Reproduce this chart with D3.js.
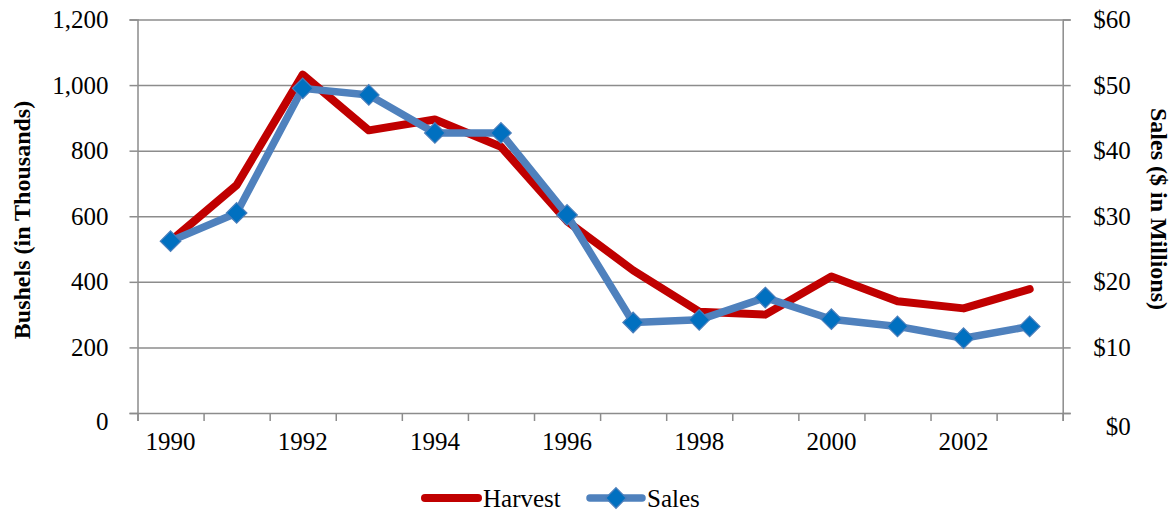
<!DOCTYPE html>
<html lang="en">

<head>
  <meta charset="utf-8">
  <title>Harvest and Sales</title>
  <!-- D3 -->
  <script src="https://cdn.jsdelivr.net/npm/d3@7"></script>
  <style>
    body { margin: 0; background: #fff; }
    svg text { font-family: "Liberation Serif", "Times New Roman", serif; fill: #000; }
    .grid line { stroke: #8c8c8c; stroke-width: 1.5; }
    .grid path { display: none; }
    .axis path, .axis line { stroke: #8c8c8c; stroke-width: 1.5; }
    .axis text { font-size: 25px; }
    .axis-title { font-size: 24px; font-weight: bold; }
  </style>
</head>

<body>
  <svg id="chart" width="1176" height="512"></svg>

  <script>
    // data
    var years = [1990, 1991, 1992, 1993, 1994, 1995, 1996, 1997, 1998, 1999, 2000, 2001, 2002, 2003];
    var harvest = [524, 695, 1032, 862, 895, 812, 585, 435, 309, 300, 416, 341, 319, 378];
    var sales = [26.2, 30.5, 49.5, 48.5, 42.7, 42.7, 30.2, 13.8, 14.2, 17.6, 14.3, 13.2, 11.4, 13.2];
    var leftTicks = [0, 200, 400, 600, 800, 1000, 1200];
    var rightTicks = [0, 10, 20, 30, 40, 50, 60];
    var yearLabels = [1990, 1992, 1994, 1996, 1998, 2000, 2002];

    var margin = { left: 137.5, right: 1062.7, top: 19.5, bottom: 413 };
    var svg = d3.select("#chart");

    var x = d3.scaleBand().domain(years).range([margin.left, margin.right]).padding(0);
    var xEdge = d3.scaleLinear().domain([0, years.length]).range([margin.left, margin.right]);
    var yL = d3.scaleLinear().domain([0, 1200]).range([margin.bottom, margin.top]);
    var yR = d3.scaleLinear().domain([0, 60]).range([margin.bottom, margin.top]);
    var cx = function (i) { return x(years[i]) + x.bandwidth() / 2; };

    // gridlines
    svg.append("g")
      .attr("class", "grid")
      .attr("transform", "translate(" + margin.left + ",0)")
      .call(d3.axisLeft(yL).tickValues(leftTicks.slice(1)).tickSize(-(margin.right - margin.left)).tickFormat(""));

    // left axis
    var gl = svg.append("g")
      .attr("class", "axis")
      .attr("transform", "translate(" + margin.left + ",0)")
      .call(d3.axisLeft(yL).tickValues(leftTicks).tickSize(8).tickPadding(21).tickFormat(d3.format(",")));
    gl.selectAll(".tick text").filter(function (d) { return d === 0; }).attr("y", 8);

    // right axis
    var gr = svg.append("g")
      .attr("class", "axis")
      .attr("transform", "translate(" + margin.right + ",0)")
      .call(d3.axisRight(yR).tickValues(rightTicks).tickSize(8).tickFormat(function (d) { return "$" + d; }));
    gr.selectAll(".tick text").attr("text-anchor", "end").attr("x", 68);
    gr.selectAll(".tick text").filter(function (d) { return d === 0; }).attr("y", 13);

    // bottom axis: ticks on category edges, labels every other year
    svg.append("g")
      .attr("class", "axis")
      .attr("transform", "translate(0," + margin.bottom + ")")
      .call(d3.axisBottom(xEdge).tickValues(d3.range(years.length + 1)).tickSize(8).tickFormat(""));

    svg.append("g").selectAll("text")
      .data(yearLabels)
      .join("text")
      .attr("x", function (d) { return x(d) + x.bandwidth() / 2; })
      .attr("y", 450)
      .attr("text-anchor", "middle")
      .style("font-size", "25px")
      .text(function (d) { return d; });

    // axis titles
    svg.append("text")
      .attr("class", "axis-title")
      .attr("transform", "translate(30,220) rotate(-90)")
      .attr("text-anchor", "middle")
      .text("Bushels (in Thousands)");

    svg.append("text")
      .attr("class", "axis-title")
      .attr("transform", "translate(1151,209) rotate(90)")
      .attr("text-anchor", "middle")
      .text("Sales ($ in Millions)");

    // lines
    var harvestLine = d3.line()
      .x(function (d, i) { return cx(i); })
      .y(function (d) { return yL(d); });

    var salesLine = d3.line()
      .x(function (d, i) { return cx(i); })
      .y(function (d) { return yR(d); });

    svg.append("path")
      .datum(harvest)
      .attr("d", harvestLine)
      .attr("fill", "none")
      .attr("stroke", "#c00000")
      .attr("stroke-width", 8)
      .attr("stroke-linejoin", "round")
      .attr("stroke-linecap", "round");

    svg.append("path")
      .datum(sales)
      .attr("d", salesLine)
      .attr("fill", "none")
      .attr("stroke", "#4f81bd")
      .attr("stroke-width", 7.5)
      .attr("stroke-linejoin", "round")
      .attr("stroke-linecap", "round");

    var diamond = d3.symbol().type(d3.symbolDiamond2).size(270);

    svg.append("g").selectAll("path")
      .data(sales)
      .join("path")
      .attr("d", diamond)
      .attr("transform", function (d, i) { return "translate(" + cx(i) + "," + yR(d) + ")"; })
      .attr("fill", "#0070c0")
      .attr("stroke", "#4a7ebb")
      .attr("stroke-width", 1.2);

    // legend
    var legend = svg.append("g");
    legend.append("line")
      .attr("x1", 425).attr("x2", 478).attr("y1", 498).attr("y2", 498)
      .attr("stroke", "#c00000").attr("stroke-width", 8).attr("stroke-linecap", "round");
    legend.append("text")
      .attr("x", 483).attr("y", 507)
      .style("font-size", "25px")
      .text("Harvest");

    legend.append("line")
      .attr("x1", 590).attr("x2", 642).attr("y1", 498).attr("y2", 498)
      .attr("stroke", "#4f81bd").attr("stroke-width", 7.5).attr("stroke-linecap", "round");
    legend.append("path")
      .attr("d", diamond)
      .attr("transform", "translate(616,498)")
      .attr("fill", "#0070c0")
      .attr("stroke", "#4a7ebb")
      .attr("stroke-width", 1.2);
    legend.append("text")
      .attr("x", 647).attr("y", 507)
      .style("font-size", "25px")
      .text("Sales");
  </script>
</body>

</html>
